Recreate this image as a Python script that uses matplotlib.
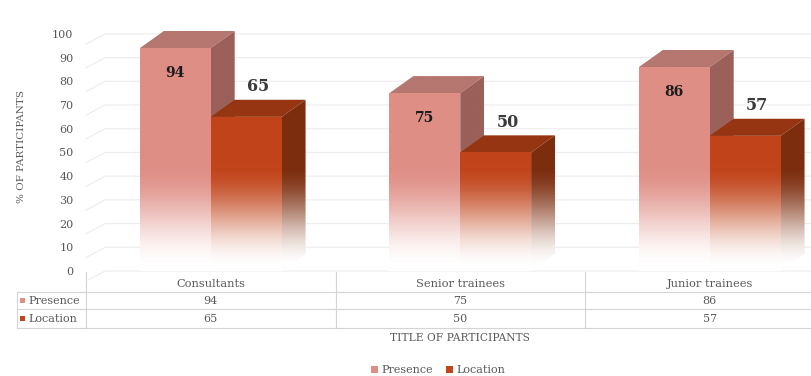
import matplotlib.pyplot as plt
import matplotlib.transforms as mtransforms
from matplotlib.patches import Polygon, Patch
from matplotlib.lines import Line2D
import numpy as np

categories = ['Consultants', 'Senior trainees', 'Junior trainees']
presence = [94, 75, 86]
location = [65, 50, 57]
series_names = ['Presence', 'Location']
yticks = [0, 10, 20, 30, 40, 50, 60, 70, 80, 90, 100]

# face colours: front, top, side
pres_cols = ['#df8e85', '#b57770', '#9b605a']
loc_cols = ['#c1441a', '#963512', '#7c2d0e']
txt_grey = '#595959'
line_grey = '#d4d4d4'
serif = 'DejaVu Serif'

W, H = 811, 376
fig = plt.figure(figsize=(W / 100, H / 100), dpi=100)

# main plot area (pixel layout converted to figure fractions)
ax_left, ax_right, ax_top, ax_bot = 86, 811, 22, 271
ax = fig.add_axes([ax_left / W, 1 - ax_bot / H, (ax_right - ax_left) / W, (ax_bot - ax_top) / H])
unit = 249.5
x0_px = 210.75
xmin = (ax_left - x0_px) / unit
xmax = (ax_right - x0_px) / unit
ymax = 105
ax.set_xlim(xmin, xmax)
ax.set_ylim(0, ymax)
for s in ax.spines.values():
    s.set_visible(False)
ax.set_xticks([])
ax.set_yticks(yticks)
ax.set_yticklabels([str(t) for t in yticks], family=serif, fontsize=8, color=txt_grey)
ax.tick_params(axis='y', length=0, pad=9)
ax.set_ylabel('% OF PARTICIPANTS', family=serif, fontsize=7.5, color=txt_grey, labelpad=19)

bw = 0.284   # bar width (category units)
dx = 0.096   # 3d depth, x
dy = 7.2     # 3d depth, y

# back wall gridlines with a short receding segment on the left
for t in yticks:
    ax.plot([xmin, xmin + dx * 0.8, xmax], [t - dy * 0.6, t, t], color='#ececec', lw=0.8,
            zorder=0, clip_on=False)


def fade(y):
    t = np.clip((y - 1.0) / 44.0, 0, 1)
    return t * t * (3 - 2 * t)


def shaded_face(pts, col, z, gradient=True):
    pts = np.asarray(pts)
    poly = Polygon(pts, closed=True, facecolor='none', edgecolor='none', zorder=z)
    ax.add_patch(poly)
    ylo, yhi = pts[:, 1].min(), pts[:, 1].max()
    ys = np.linspace(yhi, ylo, 200)
    base = np.array(plt.matplotlib.colors.to_rgb(col))
    if gradient:
        f = fade(ys)[:, None]
    else:
        f = np.ones((len(ys), 1))
    rgb = 1 - (1 - base[None, :]) * f
    img = rgb[:, None, :]
    im = ax.imshow(img, extent=[pts[:, 0].min(), pts[:, 0].max(), ylo, yhi],
                   aspect='auto', interpolation='bilinear', zorder=z)
    im.set_clip_path(poly)


def bar3d(xl, v, cols, z):
    xr = xl + bw
    shaded_face([(xl, 0), (xr, 0), (xr, v), (xl, v)], cols[0], z)
    shaded_face([(xl, v), (xr, v), (xr + dx, v + dy), (xl + dx, v + dy)], cols[1], z, gradient=False)
    shaded_face([(xr, 0), (xr + dx, dy), (xr + dx, v + dy), (xr, v)], cols[2], z)


for i in range(len(categories)):
    bar3d(i - bw, presence[i], pres_cols, 2 + i)
    bar3d(i, location[i], loc_cols, 2.5 + i)
    ax.text(i - bw / 2, presence[i] - 10.5, str(presence[i]), ha='center', va='center',
            family=serif, fontweight='bold', fontsize=10, color='#1c1c1c', zorder=10)
    ax.text(i + bw / 2 + dx / 2, location[i] + dy + 5.5, str(location[i]), ha='center', va='center',
            family=serif, fontweight='bold', fontsize=11.5, color='#3a3a3a', zorder=10)

ax.set_xlim(xmin, xmax)
ax.set_ylim(0, ymax)

# data table under the plot
ov = fig.add_axes([0, 0, 1, 1], zorder=-1)
ov.set_xlim(0, W)
ov.set_ylim(H, 0)
ov.axis('off')
tr = mtransforms.blended_transform_factory(ax.transData, ov.transData)

for y in [292, 309, 328]:
    ov.add_line(Line2D([17, W], [y, y], color=line_grey, lw=0.8))
ov.add_line(Line2D([17, 17], [292, 328], color=line_grey, lw=0.8))
ov.add_line(Line2D([ax_left, ax_left], [272, 328], color=line_grey, lw=0.8))
for b in [0.5, 1.5]:
    ov.add_line(Line2D([b, b], [272, 328], color=line_grey, lw=0.8, transform=tr))

for i, c in enumerate(categories):
    ov.text(i, 284, c, transform=tr, ha='center', va='center', family=serif, fontsize=8.2, color=txt_grey)
    ov.text(i, 300.5, str(presence[i]), transform=tr, ha='center', va='center', family=serif,
            fontsize=8, color=txt_grey)
    ov.text(i, 318.5, str(location[i]), transform=tr, ha='center', va='center', family=serif,
            fontsize=8, color=txt_grey)

for name, col, y in [(series_names[0], pres_cols[0], 300.5), (series_names[1], loc_cols[0], 318.5)]:
    ov.add_patch(plt.Rectangle((19.5, y - 3), 5, 5, facecolor=col, edgecolor='none'))
    ov.text(28, y, name, ha='left', va='center', family=serif, fontsize=8, color=txt_grey)

ov.text(1, 338, 'TITLE OF PARTICIPANTS', transform=tr, ha='center', va='center', family=serif,
        fontsize=7.7, color=txt_grey)

handles = [Patch(facecolor=pres_cols[0], label=series_names[0]),
           Patch(facecolor=loc_cols[0], label=series_names[1])]
leg = fig.legend(handles=handles, loc='center', bbox_to_anchor=(438 / W, 1 - 370 / H), ncol=2,
                 frameon=False, handlelength=0.6, handleheight=0.6, handletextpad=0.3,
                 columnspacing=1.2, prop={'family': serif, 'size': 8})
for t in leg.get_texts():
    t.set_color(txt_grey)

fig.savefig('out.png', dpi=100)
